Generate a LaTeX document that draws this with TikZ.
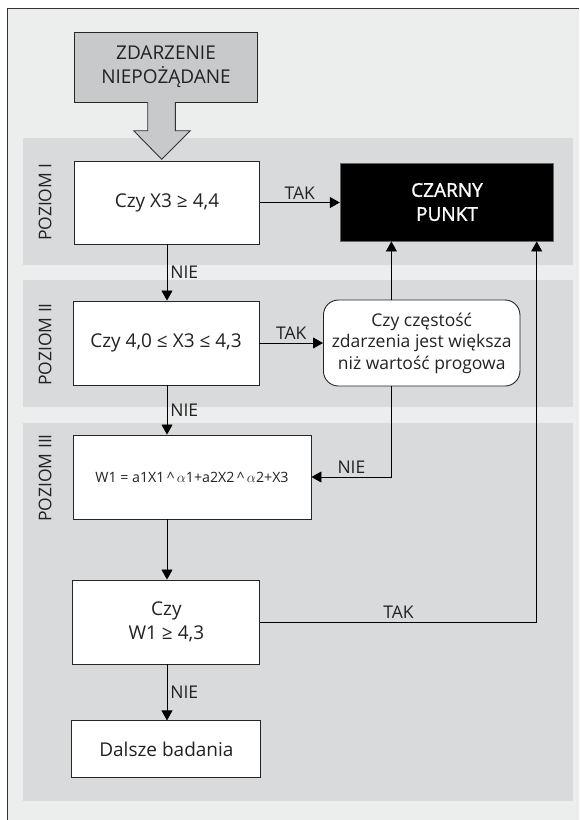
\documentclass[tikz,border=0pt]{standalone}
\usepackage{fontspec}
\setmainfont{Open Sans}
\newfontfamily\polgrub[FakeBold=1.2]{Open Sans}
\usetikzlibrary{arrows.meta,calc}
\definecolor{tlo}{HTML}{ECEDED}
\definecolor{poziom}{HTML}{D9DADC}
\definecolor{szary}{HTML}{C8C9CA}
\definecolor{tekst}{HTML}{222222}
\tikzset{
  krok/.style={draw=black!85, fill=white, line width=0.9pt, align=center, inner sep=2pt,
    text=tekst, font=\fontsize{19}{24}\selectfont},
  strz/.style={-{Triangle[length=10pt,width=11pt]}, line width=0.8pt},
  opis/.style={text=tekst, font=\fontsize{17.5}{20}\selectfont, inner sep=3pt},
}
\begin{document}
\begin{tikzpicture}[x=1pt,y=-1pt]
\useasboundingbox (0,0) rectangle (579,820);
\fill[tlo] (7.5,8.3) rectangle (579,820);
\draw[black!80, line width=0.8pt] (7.5,820) -- (7.5,8.3) -- (579,8.3);
% poziomy
\fill[poziom] (22.9,138.3) rectangle (572.5,264.7);
\fill[poziom] (22.9,280) rectangle (572.5,406.7);
\fill[poziom] (22.9,423.3) rectangle (572.5,800.7);
\node[opis, rotate=90, anchor=east] (poz1) at (45,160) {POZIOM I};
\node[opis, rotate=90, anchor=east] (poz2) at (45,300) {POZIOM II};
\node[opis, rotate=90, anchor=east] (poz3) at (45,431) {POZIOM III};
% wejscie
\node[krok, fill=szary, minimum width=183, minimum height=70] (zdarzenie) at (166,67) {ZDARZENIE\\NIEPOŻĄDANE};
\draw[fill=szary, draw=black!80, line width=0.9pt] (147.7,102) -- (147.7,130.7) -- (133.7,130.7)
  -- (161.7,159.3) -- (190.2,130.7) -- (175.4,130.7) -- (175.4,102);
% bloki
\node[krok, minimum width=184.6, minimum height=83] (pyt1) at (167,202.5) {Czy X3 ≥ 4,4};
\node[krok, fill=black, text=white, draw=black!60, minimum width=213.5, minimum height=78,
  font=\polgrub\fontsize{19}{24}\selectfont] (czarny) at (447,202) {CZARNY\\PUNKT};
\node[krok, minimum width=186, minimum height=84] (pyt2) at (166,343) {Czy 4,0 ≤ X3 ≤ 4,3};
\node[krok, rounded corners=15pt, minimum width=196.5, minimum height=86,
  font=\fontsize{17.5}{21.5}\selectfont] (czest) at (421.7,343)
  {Czy częstość\\zdarzenia jest większa\\niż wartość progowa};
\node[krok, minimum width=238, minimum height=84, font=\fontsize{14.2}{17}\selectfont] (wzor) at (192,477)
  {W1 = a1X1\,\textasciicircum\,$\alpha$1+a2X2\,\textasciicircum\,$\alpha$2+X3};
\node[krok, minimum width=187, minimum height=84] (pyt3) at (166.4,622) {Czy\\W1 ≥ 4,3};
\node[krok, minimum width=189, minimum height=57] (dalej) at (166.4,749.4) {Dalsze badania};
\coordinate (xa) at (391.4,0);
\coordinate (xb) at (536.7,0);
% polaczenia
\draw[strz] (pyt1.east) -- node[opis, above] {TAK} (pyt1.east -| czarny.west);
\draw[strz] (pyt1.south) -- node[opis, right] {NIE} (pyt1.south |- pyt2.north);
\draw[strz] (pyt2.east) -- node[opis, above] {TAK} (pyt2.east -| czest.west);
\draw[strz] (xa |- czest.north) -- (xa |- czarny.south);
\draw[strz] (xa |- czest.south) |- node[opis, above, pos=0.75] {NIE} (wzor.east);
\draw[strz] (pyt1.south |- pyt2.south) -- node[opis, right] {NIE} (pyt1.south |- wzor.north);
\draw[strz] (pyt1.south |- wzor.south) -- (pyt1.south |- pyt3.north);
\draw[strz] (pyt3.east) -| node[opis, above, pos=0.25] {TAK} (xb |- czarny.south);
\draw[strz] (pyt1.south |- pyt3.south) -- node[opis, right] {NIE} (pyt1.south |- dalej.north);
\end{tikzpicture}
\end{document}
